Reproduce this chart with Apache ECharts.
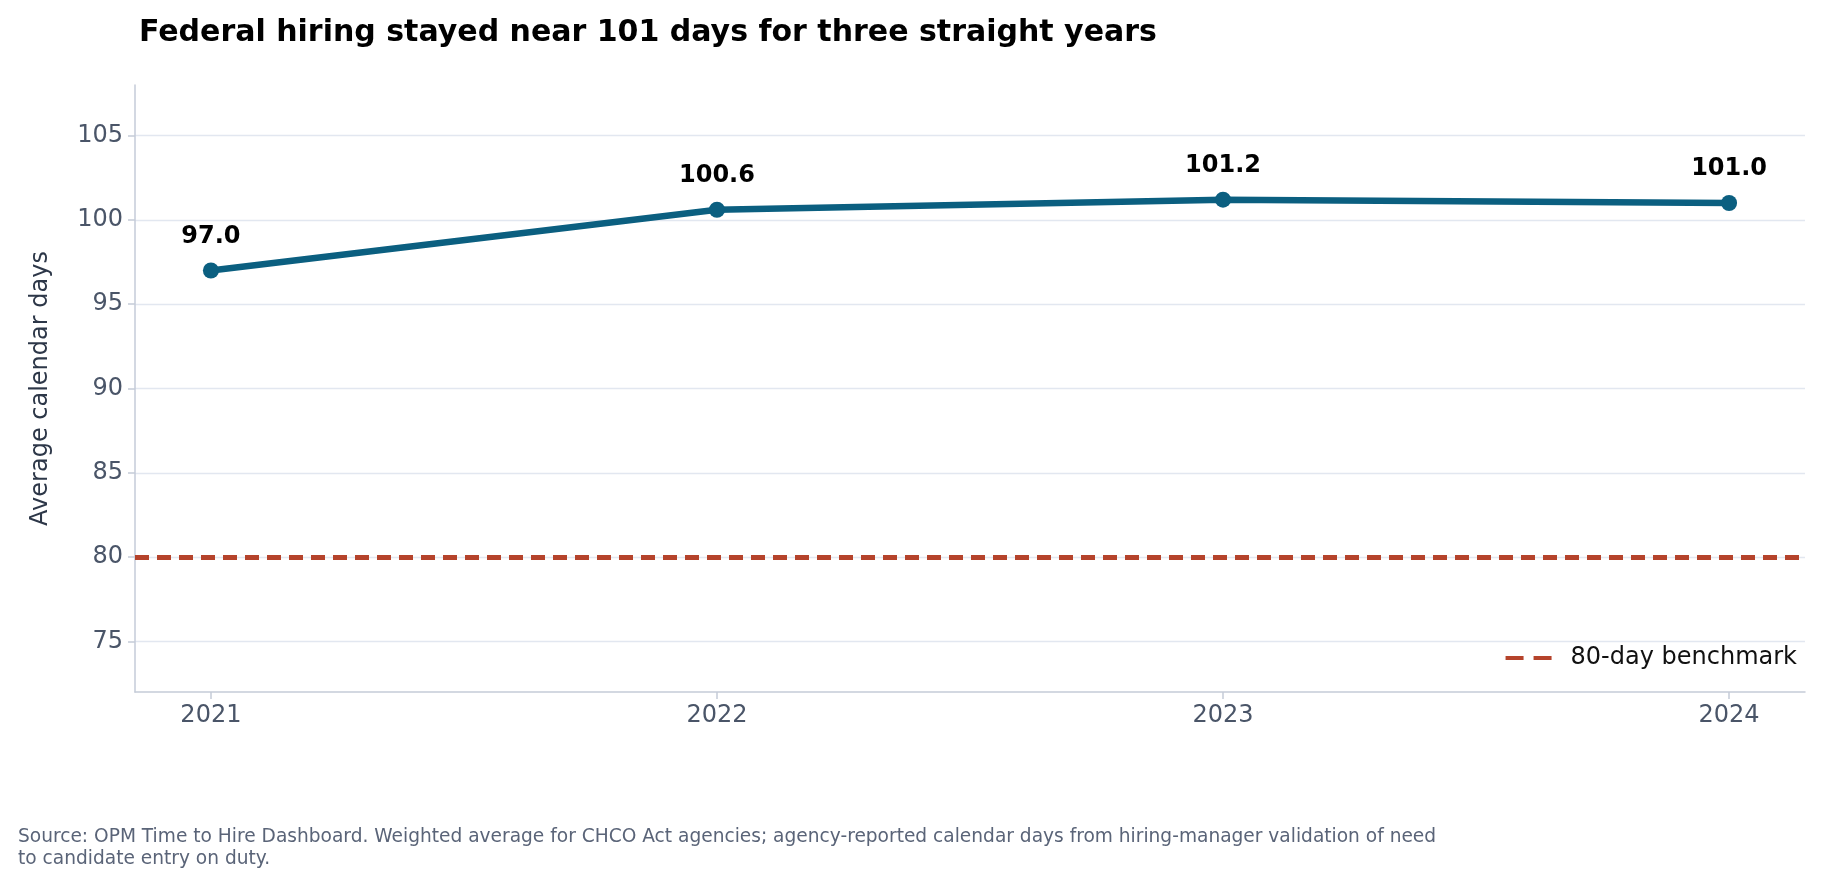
<!DOCTYPE html>
<html>
<head>
<meta charset="utf-8">
<script src="https://cdn.jsdelivr.net/npm/echarts@6/dist/echarts.min.js"></script>
<style>html,body{margin:0;padding:0;background:#fff}#chart{width:1824px;height:887px}</style>
</head>
<body>
<div id="chart"></div>
<script>
var years = [2021, 2022, 2023, 2024];
var days = [97.0, 100.6, 101.2, 101.0];
var benchmark = 80;
var yTicks = [75, 80, 85, 90, 95, 100, 105];

var axisGray = '#c5cbd8';
var tickText = '#4a5568';

var chart = echarts.init(document.getElementById('chart'));
chart.setOption({
    animation: false,
    title: {
        text: 'Federal hiring stayed near 101 days for three straight years',
        left: 134, top: 13,
        textStyle: {fontFamily: 'DejaVu Sans', fontSize: 30, fontWeight: 'bold', color: '#000'}
    },
    graphic: [{
        type: 'text', left: 18, top: 826,
        style: {
            text: 'Source: OPM Time to Hire Dashboard. Weighted average for CHCO Act agencies; agency-reported calendar days from hiring-manager validation of need\nto candidate entry on duty.',
            font: '18.6px "DejaVu Sans"', fill: '#5a6478', lineHeight: 22
        }
    }],
    legend: {
        right: 22, top: 641,
        itemWidth: 46, itemHeight: 5, itemGap: 10,
        icon: 'path://M0,0h18v4h-18z M28,0h18v4h-18z',
        textStyle: {fontFamily: 'DejaVu Sans', fontSize: 24, color: '#111', padding: [0, 0, 0, 14]},
        data: ['80-day benchmark']
    },
    grid: {left: 135, right: 19, top: 85, bottom: 195},
    xAxis: {
        type: 'value', min: 2020.85, max: 2024.15,
        axisLine: {lineStyle: {color: axisGray, width: 1.5}},
        axisTick: {show: true, customValues: years, length: 7, lineStyle: {color: axisGray, width: 1.5}},
        axisLabel: {customValues: years, formatter: function (v) { return String(v); },
            fontFamily: 'DejaVu Sans', fontSize: 24, color: tickText, margin: 12},
        splitLine: {show: false}
    },
    yAxis: {
        type: 'value', min: 72, max: 108,
        name: 'Average calendar days', nameLocation: 'middle', nameGap: 82,
        nameTextStyle: {fontFamily: 'DejaVu Sans', fontSize: 24, color: '#2d3748'},
        axisLine: {show: true, lineStyle: {color: axisGray, width: 1.5}},
        axisTick: {show: true, customValues: yTicks, length: 7, lineStyle: {color: axisGray, width: 1.5}},
        axisLabel: {customValues: yTicks, fontFamily: 'DejaVu Sans', fontSize: 24, color: tickText, margin: 12},
        splitLine: {show: true, customValues: yTicks, lineStyle: {color: '#e2e7f0', width: 1.3}}
    },
    series: [{
        name: 'Average days',
        type: 'line',
        data: years.map(function (y, i) { return [y, days[i]]; }),
        symbol: 'circle', symbolSize: 16,
        lineStyle: {color: '#0b5f80', width: 6.5},
        itemStyle: {color: '#0b5f80'},
        label: {show: true, position: 'top', distance: 14,
            formatter: function (p) { return p.value[1].toFixed(1); },
            fontFamily: 'DejaVu Sans', fontSize: 24, fontWeight: 'bold', color: '#000'},
        z: 3
    }, {
        name: '80-day benchmark',
        type: 'line',
        data: [],
        itemStyle: {color: '#b5432b'},
        lineStyle: {color: '#b5432b', width: 5, type: [14, 8]},
        markLine: {
            silent: true, symbol: 'none', label: {show: false},
            lineStyle: {color: '#b5432b', width: 5, type: [14, 8]},
            data: [{yAxis: benchmark}]
        }
    }]
});
</script>
</body>
</html>
